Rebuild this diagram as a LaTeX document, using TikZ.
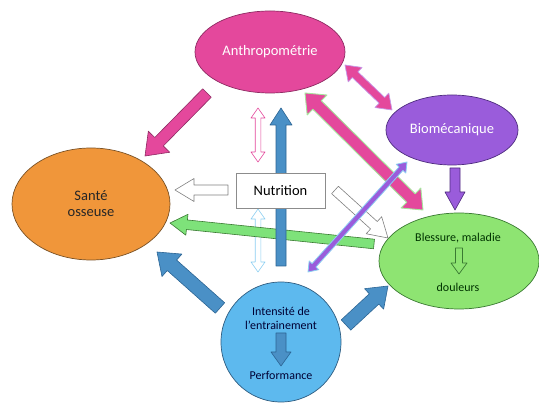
\documentclass[tikz,border=0pt]{standalone}
\usepackage{fontspec}
\setmainfont{Carlito}
\usetikzlibrary{calc,shapes.geometric}
\definecolor{pinkF}{HTML}{E4489C}
\definecolor{pinkD}{HTML}{8E2A62}
\definecolor{purpF}{HTML}{9A5CDB}
\definecolor{purpD}{HTML}{4E2C7E}
\definecolor{greenF}{HTML}{8EE472}
\definecolor{greenD}{HTML}{3A7A32}
\definecolor{orangeF}{HTML}{F0963A}
\definecolor{orangeD}{HTML}{7A5226}
\definecolor{lblueF}{HTML}{5DB9EE}
\definecolor{lblueD}{HTML}{2E5C80}
\definecolor{blueF}{HTML}{4A90C6}
\definecolor{blueD}{HTML}{2C6594}
\definecolor{arrG}{HTML}{7EE27A}
\definecolor{glowG}{HTML}{A6E49C}
\definecolor{glowB}{HTML}{8CCFF2}
\definecolor{glowP}{HTML}{C69AE8}
\newcommand{\sarrow}[6]{%
  \coordinate (hh) at ($(#3)!#6!(#2)$);
  \draw[#1] ($(#2)!#4!90:(#3)$) -- ($(hh)!#4!90:(#3)$) -- ($(hh)!#5!90:(#3)$) -- (#3)
    -- ($(hh)!#5!-90:(#3)$) -- ($(hh)!#4!-90:(#3)$) -- ($(#2)!#4!-90:(#3)$) -- cycle;}
\newcommand{\darrow}[6]{%
  \coordinate (ha) at ($(#2)!#6!(#3)$);
  \coordinate (hb) at ($(#3)!#6!(#2)$);
  \draw[#1] (#2) -- ($(ha)!#5!90:(#3)$) -- ($(ha)!#4!90:(#3)$) -- ($(hb)!#4!90:(#3)$)
    -- ($(hb)!#5!90:(#3)$) -- (#3) -- ($(hb)!#5!-90:(#3)$) -- ($(hb)!#4!-90:(#3)$)
    -- ($(ha)!#4!-90:(#3)$) -- ($(ha)!#5!-90:(#3)$) -- cycle;}
\tikzset{
  lbl/.style={font=\fontsize{14.5}{16}\selectfont, align=center},
  sml/.style={font=\fontsize{12}{14}\selectfont, align=center},
  bpink/.style={fill=pinkF, draw=pinkD, line width=0.6pt, line join=round},
  bblue/.style={fill=blueF, draw=blueD, line width=0.6pt, line join=round},
  hollow/.style={fill=white, line width=0.6pt, line join=round},
}
\begin{document}
\begin{tikzpicture}[x=1pt,y=-1pt]
\useasboundingbox[fill=white] (0,0) rectangle (539,403);
% nodes
\node[ellipse, minimum width=150pt, minimum height=82pt, fill=pinkF, draw=pinkD, line width=0.7pt] (anth) at (270,52) {};
\node[lbl, text=white] at (anth.center) {Anthropométrie};
\node[ellipse, minimum width=132pt, minimum height=70pt, fill=purpF, draw=purpD, line width=0.7pt] (bio) at (452,130) {};
\node[lbl, text=white] at (bio.center) {Biomécanique};
\node[ellipse, minimum width=158pt, minimum height=112pt, fill=orangeF, draw=orangeD, line width=0.7pt] (sante) at (91,204) {};
\node[lbl, text=black!85] at (sante.center) {Santé\\osseuse};
\node[ellipse, minimum width=160pt, minimum height=96pt, fill=greenF, draw=greenD, line width=0.7pt] (bless) at (459,261) {};
\node[sml, text=black!80!green] (blt) at (458,238) {Blessure, maladie};
\node[sml, text=black!80!green] (dou) at (458,287) {douleurs};
\node[circle, minimum size=120pt, fill=lblueF, draw=lblueD, line width=0.7pt] (int) at (281,342) {};
\node[sml, text=black!80!blue] (intt) at (281,318) {Intensité de\\l’entrainement};
\node[sml, text=black!80!blue] (perf) at (281,375) {Performance};
% arrow end points
\coordinate (p1s) at (207,93);  \coordinate (p1e) at (145,156);
\coordinate (p2s) at (258,108); \coordinate (p2e) at (258,162);
\coordinate (p3s) at (281,266); \coordinate (p3e) at (281,108);
\coordinate (p4s) at (258,209); \coordinate (p4e) at (258,272);
\coordinate (p5s) at (228,190); \coordinate (p5e) at (175,190);
\coordinate (p6s) at (335,190); \coordinate (p6e) at (388,238);
\coordinate (p7s) at (374,244); \coordinate (p7e) at (170,223);
\coordinate (p8s) at (305,93);  \coordinate (p8e) at (423,210);
\coordinate (p9s) at (407,162); \coordinate (p9e) at (308,272);
\coordinate (p10s) at (345,65); \coordinate (p10e) at (392,110);
\coordinate (p11s) at (455,168); \coordinate (p11e) at (455,210);
\coordinate (p12s) at (220,308); \coordinate (p12e) at (157,252);
\coordinate (p13s) at (346,325); \coordinate (p13e) at (388,286);
\coordinate (p14s) at (459,248); \coordinate (p14e) at (459,274);
\coordinate (p15s) at (281,333); \coordinate (p15e) at (281,366);
% arrows (back to front)
\sarrow{bpink}{p1s}{p1e}{6pt}{15pt}{20pt}
\darrow{hollow, draw=pinkF}{p2s}{p2e}{2.8pt}{7pt}{10pt}
\darrow{hollow, draw=glowB}{p4s}{p4e}{2.8pt}{7pt}{10pt}
\sarrow{fill=arrG, draw=greenD, line width=0.6pt, line join=round}{p7s}{p7e}{4.8pt}{10.5pt}{17pt}
\sarrow{bblue}{p3s}{p3e}{5pt}{11pt}{17pt}
\node[draw=black!45, fill=white, line width=0.6pt, minimum width=89pt, minimum height=35pt, lbl, inner sep=0pt] (nut) at (280.5,190.5) {Nutrition};
\sarrow{hollow, draw=black!50}{p5s}{p5e}{5pt}{11.5pt}{19pt}
\sarrow{hollow, draw=black!50}{p6s}{p6e}{5pt}{11.5pt}{19pt}
\darrow{fill=pinkF, draw=glowG, line width=0.9pt, line join=round}{p8s}{p8e}{6pt}{14pt}{17pt}
\darrow{fill=purpF, draw=glowB, line width=0.8pt, line join=round}{p9s}{p9e}{2.6pt}{6.5pt}{9pt}
\darrow{fill=pinkF, draw=glowP, line width=0.7pt, line join=round}{p10s}{p10e}{4pt}{10pt}{14pt}
\sarrow{fill=purpF, draw=purpD, line width=0.6pt, line join=round}{p11s}{p11e}{5pt}{10pt}{18pt}
\sarrow{bblue}{p12s}{p12e}{7pt}{15pt}{20pt}
\sarrow{bblue}{p13s}{p13e}{7pt}{14pt}{19pt}
\sarrow{fill=greenF, draw=greenD, line width=0.7pt, line join=round}{p14s}{p14e}{3.5pt}{8pt}{11pt}
\sarrow{bblue}{p15s}{p15e}{5pt}{10pt}{14pt}
\end{tikzpicture}
\end{document}
